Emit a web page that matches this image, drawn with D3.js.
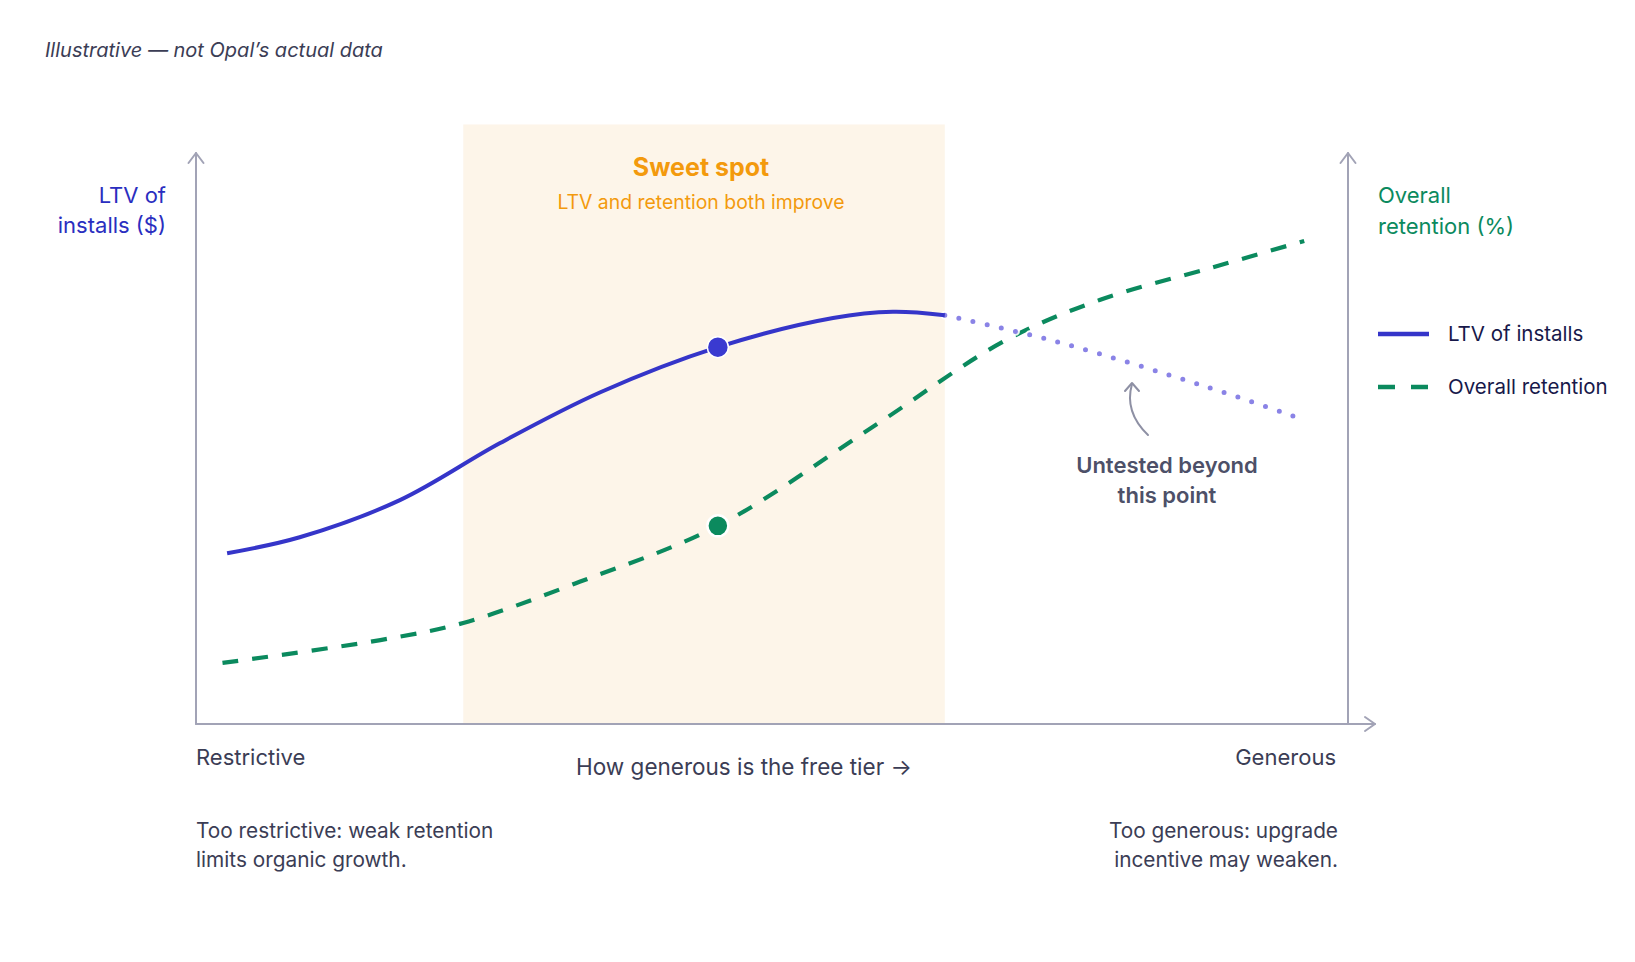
<!DOCTYPE html>
<html>
<head>
<meta charset="utf-8">
<script src="https://cdn.jsdelivr.net/npm/d3@7"></script>
<style>
  html, body { margin: 0; padding: 0; background: #ffffff; }
  svg { display: block; font-family: Inter, "Noto Sans", "Liberation Sans", sans-serif; }
</style>
</head>
<body>
<svg id="chart" width="1635" height="962"></svg>
<script>
// ---- data (x: generosity of free tier 0..10, y: 0..100 relative) ----
const ltvX      = [0.27, 0.90, 1.77, 2.64, 3.51, 4.53, 5.53, 6.05, 6.50];
const ltvY      = [29.9, 32.7, 39.2, 49.2, 58.1, 66.0, 71.1, 72.2, 71.6];
const untestedX = [6.50, 7.48, 8.78, 9.63];
const untestedY = [71.6, 66.9, 59.0, 53.2];
const retX      = [0.23, 1.60, 2.32, 3.33, 4.53, 5.85, 7.02, 7.85, 8.83, 9.62];
const retY      = [10.7, 14.7, 17.7, 24.9, 34.7, 51.7, 67.1, 74.3, 80.0, 84.6];
const sweetSpot = [2.32, 6.50];
const sweetTop  = 105;
const markerX   = [4.53];
const markerLtv = [66.0];
const markerRet = [34.7];
const legendLabels = ["LTV of installs", "Overall retention"];
const xEndLabels   = ["Restrictive", "Generous"];

(function () {
// ---- layout ----
const svg = d3.select("#chart");
const pL = 196, pR = 1348, pB = 724, pT = 153;
const x = d3.scaleLinear().domain([0, 10]).range([pL, pR]);
const yL = d3.scaleLinear().domain([0, 100]).range([pB, pT]);
const yR = d3.scaleLinear().domain([0, 100]).range([pB, pT]);

const BLUE = "#3535c9", GREEN = "#0b8a5e", LAV = "#8a83e6", ORANGE = "#f39a0d",
      AXIS = "#a2a3b6", INK = "#3b3d55", NAVY = "#17184a";

// sweet spot band
svg.append("rect")
  .attr("x", x(sweetSpot[0])).attr("width", x(sweetSpot[1]) - x(sweetSpot[0]))
  .attr("y", yL(sweetTop)).attr("height", yL(0) - yL(sweetTop))
  .attr("fill", "#fdf5e9");

const cx = (x(sweetSpot[0]) + x(sweetSpot[1])) / 2 - 3;
svg.append("text").attr("x", cx).attr("y", 176)
  .attr("text-anchor", "middle").attr("font-size", 25).attr("font-weight", 700)
  .attr("fill", ORANGE).text("Sweet spot");
svg.append("text").attr("x", cx).attr("y", 209)
  .attr("text-anchor", "middle").attr("font-size", 19.4)
  .attr("fill", ORANGE).text("LTV and retention both improve");

// axes
const ax = svg.append("g").attr("fill", "none").attr("stroke", AXIS).attr("stroke-width", 2)
  .attr("stroke-linecap", "round").attr("stroke-linejoin", "round");
ax.append("line").attr("x1", pL).attr("y1", pB).attr("x2", pL).attr("y2", pT);
ax.append("path").attr("d", `M${pL-7.5},${pT+10}L${pL},${pT}L${pL+7.5},${pT+10}`);
ax.append("line").attr("x1", pR).attr("y1", pB).attr("x2", pR).attr("y2", pT);
ax.append("path").attr("d", `M${pR-7.5},${pT+10}L${pR},${pT}L${pR+7.5},${pT+10}`);
ax.append("line").attr("x1", pL).attr("y1", pB).attr("x2", pR + 27).attr("y2", pB);
ax.append("path").attr("d", `M${pR+17},${pB-7}L${pR+27},${pB}L${pR+17},${pB+7}`);

// lines
const curve = d3.curveCatmullRom.alpha(0.5);
const lineL = d3.line().x(d => x(d[0])).y(d => yL(d[1])).curve(curve);
const lineR = d3.line().x(d => x(d[0])).y(d => yR(d[1])).curve(curve);
const ltvData = ltvX.map((v, i) => [v, ltvY[i]]);
const untData = untestedX.map((v, i) => [v, untestedY[i]]);
const retData = retX.map((v, i) => [v, retY[i]]);

svg.append("path").attr("d", lineR(retData)).attr("fill", "none")
  .attr("stroke", GREEN).attr("stroke-width", 4.2).attr("stroke-dasharray", "16 14");

svg.append("path").attr("d", lineL(untData)).attr("fill", "none")
  .attr("stroke", "#ffffff").attr("stroke-width", 9).attr("stroke-linecap", "round")
  .attr("stroke-dasharray", "0 14.5").attr("opacity", 0.9);
svg.append("path").attr("d", lineL(untData)).attr("fill", "none")
  .attr("stroke", LAV).attr("stroke-width", 5).attr("stroke-linecap", "round")
  .attr("stroke-dasharray", "0 14.5");

svg.append("path").attr("d", lineL(ltvData)).attr("fill", "none")
  .attr("stroke", BLUE).attr("stroke-width", 4);

// markers
svg.append("circle").attr("cx", x(markerX[0])).attr("cy", yL(markerLtv[0])).attr("r", 10.5)
  .attr("fill", "#3a3ad0").attr("stroke", "#ffffff").attr("stroke-width", 1.5);
svg.append("circle").attr("cx", x(markerX[0])).attr("cy", yR(markerRet[0])).attr("r", 10.5)
  .attr("fill", GREEN).attr("stroke", "#ffffff").attr("stroke-width", 2.5);

// annotation arrow
svg.append("path").attr("d", "M1148,435Q1124,412 1132,384").attr("fill", "none")
  .attr("stroke", "#8e90a4").attr("stroke-width", 2).attr("stroke-linecap", "round");
svg.append("path").attr("d", "M1125,391L1132,383L1139,391").attr("fill", "none")
  .attr("stroke", "#8e90a4").attr("stroke-width", 2).attr("stroke-linecap", "round")
  .attr("stroke-linejoin", "round");
svg.append("text").attr("text-anchor", "middle").attr("font-size", 22).attr("font-weight", 600)
  .attr("fill", "#4d5068")
  .selectAll("tspan").data(["Untested beyond", "this point"]).join("tspan")
  .attr("x", 1167).attr("y", (d, i) => 473 + i * 30).text(d => d);

// subtitle
svg.append("text").attr("x", 45).attr("y", 57).attr("font-size", 20).attr("font-style", "italic")
  .attr("fill", INK).text("Illustrative — not Opal’s actual data");

// axis titles
svg.append("text").attr("text-anchor", "end").attr("font-size", 22).attr("fill", "#2a2ec0")
  .selectAll("tspan").data(["LTV of", "installs ($)"]).join("tspan")
  .attr("x", 166).attr("y", (d, i) => 203 + i * 30).text(d => d);
svg.append("text").attr("font-size", 22).attr("fill", GREEN)
  .selectAll("tspan").data(["Overall", "retention (%)"]).join("tspan")
  .attr("x", 1378).attr("y", (d, i) => 203 + i * 31).text(d => d);

// legend
const lg = svg.append("g");
lg.append("line").attr("x1", 1378).attr("x2", 1429).attr("y1", 334).attr("y2", 334)
  .attr("stroke", BLUE).attr("stroke-width", 4.5);
lg.append("line").attr("x1", 1378).attr("x2", 1429).attr("y1", 387).attr("y2", 387)
  .attr("stroke", GREEN).attr("stroke-width", 4.5).attr("stroke-dasharray", "17 16");
lg.selectAll("text").data(legendLabels).join("text")
  .attr("x", 1448).attr("y", (d, i) => 341 + i * 53).attr("font-size", 20.5).attr("fill", NAVY)
  .text(d => d);

// x-axis labels
svg.append("text").attr("x", pL).attr("y", 765).attr("font-size", 22).attr("fill", INK).text(xEndLabels[0]);
svg.append("text").attr("x", 1336).attr("y", 765).attr("font-size", 22).attr("fill", INK)
  .attr("text-anchor", "end").text(xEndLabels[1]);
svg.append("text").attr("x", 744).attr("y", 775).attr("font-size", 22.5).attr("fill", INK)
  .attr("text-anchor", "middle").text("How generous is the free tier →");

svg.append("text").attr("font-size", 20.8).attr("fill", INK)
  .selectAll("tspan").data(["Too restrictive: weak retention", "limits organic growth."]).join("tspan")
  .attr("x", pL).attr("y", (d, i) => 838 + i * 29).text(d => d);
svg.append("text").attr("font-size", 20.8).attr("fill", INK).attr("text-anchor", "end")
  .selectAll("tspan").data(["Too generous: upgrade", "incentive may weaken."]).join("tspan")
  .attr("x", 1338).attr("y", (d, i) => 838 + i * 29).text(d => d);
})();
</script>
</body>
</html>
